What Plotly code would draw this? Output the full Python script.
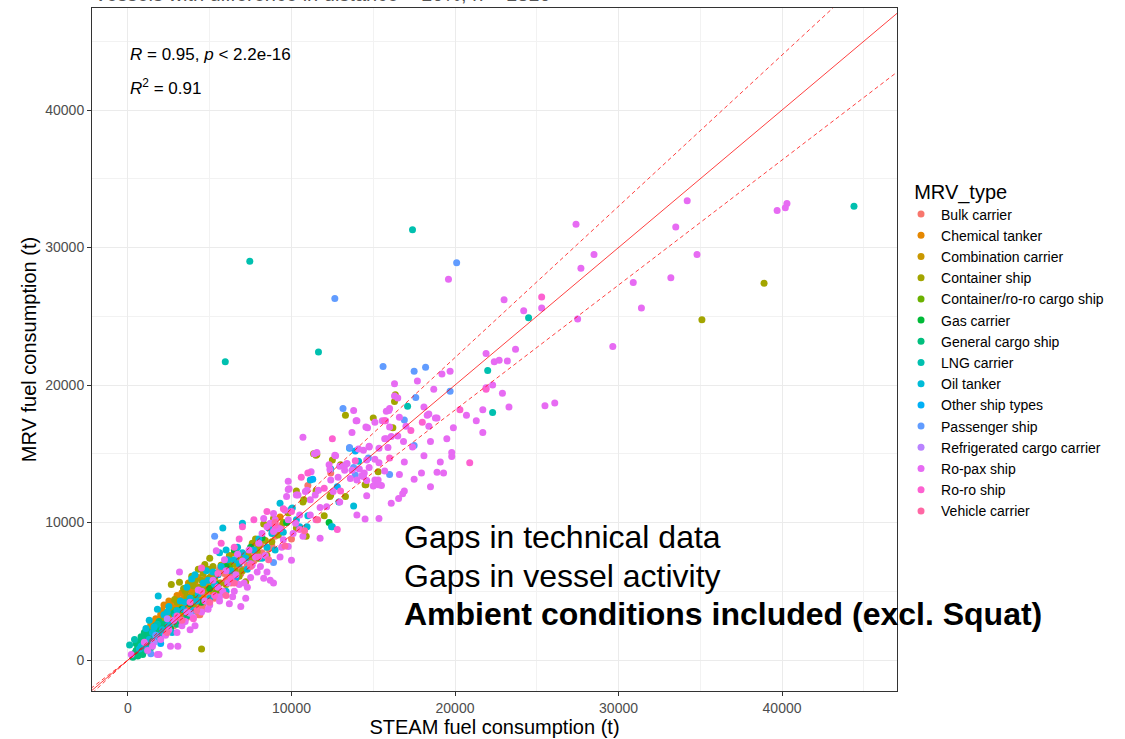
import plotly.graph_objects as go

# ---------------- data (STEAM t, MRV t) ----------------
type_names = ["Bulk carrier", "Chemical tanker", "Combination carrier", "Container ship",
              "Container/ro-ro cargo ship", "Gas carrier", "General cargo ship", "LNG carrier",
              "Oil tanker", "Other ship types", "Passenger ship", "Refrigerated cargo carrier",
              "Ro-pax ship", "Ro-ro ship", "Vehicle carrier"]
type_colors = ["#F8766D", "#E58700", "#C99800", "#A3A500", "#6BB100", "#00BA38", "#00BF7D",
               "#00C0AF", "#00BCD8", "#00B0F6", "#619CFF", "#B983FF", "#E76BF3", "#FD61D1", "#FF67A4"]

bulk_carrier = [(1500,1400),(2000,2200),(2500,2800),(2800,2500),(3000,3300),(3500,3400),(3500,4300),
    (3800,3500),(4000,4200),(4200,3800),(4400,3300),(4500,4600),(4800,5400),(5000,4900),(5200,6000),
    (5500,5300),(5800,5000),(6000,5800),(6500,6400),(1200,1500),(2300,1900),(3200,2700),(2700,3100),
    (3700,4800),(4600,4100),(5300,4500),(6300,5600),(7000,6600),(6800,7300),(7500,7800),(8200,7800),
    (9000,9000),(10000,8800),(12400,13600),(11000,12700),(1800,1600),(2600,2400),(3400,3000),
    (4300,4900),(5600,6600),(1000,800),(4600,3700),(4300,3300),(3900,4500),(3100,3900),(2200,2700),
    (5100,5700),(5900,6300),(6600,5900),(7200,7600),(4100,5100),(3300,3600),(2900,3500),(1700,2000),
    (2400,3000),(3600,3800),(4900,4300),(5400,6200),(6200,6900),(7800,8300),(8600,8100),(9400,9800),
    (2100,2500),(2600,2900),(3100,3000),(3300,3300),(3600,3100),(3900,3900),(4100,4300),(4400,4000),
    (4700,4800),(5000,5300),(5300,5100),(5700,5600),(6100,6200),(6400,6000),(6900,6300),(7300,6900),
    (7700,7200),(8100,8400),(8800,8300),(2900,2700),(3400,3900),(4500,4400),(5500,4800),(6700,6700),
    (1300,1200),(1600,1700),(2200,2100),(2700,2600),(5100,4600),(7600,7500)]
chemical_tanker = [(1500,2200),(2000,2800),(2500,3500),(3000,4000),(3500,4600),(2200,3200),(1800,2500),
    (2800,3000),(3200,3700),(4000,4400),(4500,5200),(1200,1800),(2600,4100),(3300,4900),(5000,5600),
    (3800,5200),(1600,2000),(2300,2600),(4200,4800),(5500,6200),(1400,2600),(2100,3600),(2900,4400),
    (3600,3900),(4100,5600),(2400,2100),(1900,1900),(3100,3200),(4600,4500),(5200,5000),(6000,6600),
    (6500,7800),(9300,10400),(1000,1600),(2700,3800),(3400,4100),(1300,2300),(1700,3000),(2000,3300),
    (2500,4300),(3000,4700),(3700,5600),(4300,6000),(2200,4000),(1100,2100),(2800,3300),(3500,5000),
    (4800,5900),(5700,6900),(1600,2800),(3900,4000),(2600,3000),(4400,4200),
    (1300,1900),(1500,2500),(1700,2300),(1900,2700),(2100,3000),(2300,3400),(2400,2900),(2600,3300),
    (2800,3700),(3000,3500),(3100,4200),(3300,4400),(3500,4000),(3700,4400),(3900,5000),(4100,4600),
    (4300,5300),(4700,5000),(5100,6100),(5300,6000),(2000,2300),(1100,1400),(1400,1700),(2500,2700),
    (3200,3300)]
combination_carrier = [(3200,3500),(4600,5500),(2500,3300),(6100,7000),(3900,4700)]
container_ship = [(35100,24750),(38900,27400),(16300,18800),(16350,19300),(13300,17800),(16200,16900),
    (11500,14900),(12500,14550),(13000,14200),(15300,13700),(11500,12300),(12400,12000),(13300,11900),
    (14500,12750),(11550,14950),(14550,12750),(10750,11650),(12350,11900),(10900,9000),(4500,800),
    (3000,4200),(3500,5000),(4000,5400),(4500,5800),(3800,5600),(5000,6000),(5500,6300),(6000,5500),
    (4200,4700),(2800,3600),(6500,7000),(7000,6500),(7500,7400),(8000,8300),(8500,7600),(9000,9700),
    (9500,10000),(10300,9600),(5200,6800),(4800,5100),(6800,6100),(7800,8800),(8300,9900),(3300,3800),
    (5800,4900),(6200,7600),(2200,3000),(4000,4000),(7200,5700),(8800,8600),(3150,5650),(2650,5500),
    (2850,4400),(4700,6950),(6550,6500),(11350,15000),(10300,12300),(15000,17600),(12000,10500),
    (3600,4600),(4100,5800),(4400,5300),(4600,6300),(4900,6600),(5300,6000),(5700,6900),(6100,7200),
    (6400,6500),(6900,7500),(7300,7700),(7900,7900),(8400,8700),(9200,9100),(3400,5200),(3900,6100),
    (5600,5600),(6600,8000),(7600,8500),(2500,3400),(8900,10300),(9800,10700),(10700,11500),(5000,7400),
    (4300,6600)]
container_roro = [(4000,4500),(6200,6800),(8000,7400),(3000,3600),(5400,4900)]
gas_carrier = [(1500,1200),(2000,2500),(4500,4200),(7500,8200),(9700,10000),(6000,6800),(12300,10000),
    (3300,3700),(5400,5500),(1000,900),(6500,8000),(8200,8900),(2600,2300),(700,1100),(1200,1500),
    (1800,2000),(3800,4100),(5000,5200)]
general_cargo = [(600,900),(800,1200),(1000,1400),(1200,1100),(1500,1900),(700,600),(1300,1600),
    (1800,2100),(900,400),(2200,2600),(400,500),(1100,700),(500,1200),(1400,900),(1700,1500),(2000,1700),
    (800,1700),(1600,2400),(2500,2300),(3000,2600),(1000,2000),(300,200),(2800,3400),(3600,3200),
    (600,300),(1200,2100),(1900,2800),(900,1600),(1500,1300),(2300,2000),(500,700),(700,1000),
    (900,1100),(1100,1300),(1300,1400),(1000,900),(1400,1500),(1600,1700),(1900,1900),(2100,2300),
    (2400,2500),(800,500),(600,1300),(1200,1700),(1700,2500)]
lng_carrier = [(17400,31300),(7450,29000),(44400,33000),(5950,21700),(11650,22400),(22000,21050),
    (22300,18000),(24500,24900),(17100,18450),(100,1100),(400,1500),(1100,800),(1800,2600)]
oil_tanker = [(1500,2000),(2000,1800),(2500,2600),(3000,3600),(1800,3700),(2200,3300),(3500,4200),
    (4000,3600),(4500,5000),(5000,4500),(5500,6200),(6000,5000),(6500,7300),(7000,7800),(7500,7000),
    (8000,8800),(8500,8200),(9000,8000),(5600,7800),(6000,8000),(4800,6500),(10000,11000),(10500,9700),
    (11000,10500),(12400,13900),(12900,11500),(13800,11200),(12500,9700),(5800,9600),(7000,9950),
    (1850,4650),(800,1000),(1200,800),(1100,2300),(2700,2000),(3300,2900),(4300,4800),(14100,14450),
    (11150,13100),(10050,11050),(10950,9700),(12450,9700),(7300,6600),(8600,9600),(6800,7000),
    (3900,5900),(1300,2900),(2500,3900),(3200,4300),(4100,6200),(5300,5500),(9300,11400),
    (1600,2400),(2100,2200),(2400,3500),(2900,3200),(3400,3700),(3800,4500),(4200,4300),(4600,5600),
    (5200,6400),(5700,6800),(6300,6500),(6700,8200),(7200,7400),(7700,8000),(8200,7400),(8800,9200),
    (9500,9300),(1000,1200),(1300,1500),(700,800),(3600,5300),(4900,5800),(6100,7300),(10300,10200),
    (1700,1600)]
other_types = [(12800,12600),(13550,15400),(13900,15200),(11300,13150),(6600,6000),(2000,1200)]
passenger_ship = [(20100,28900),(12650,26300),(15600,21350),(17500,21000),(18200,21300),(17600,19100),
    (19700,19550),(16900,17450),(17500,15600),(16000,13500),(14700,14700),(13150,18300),(13900,13450),
    (13800,14000),(5300,9000),(1400,450),(13550,15450),(8900,7100),(9100,9600),(1700,1800)]
refrigerated = [(2400,3000),(3800,3400),(1600,1300)]
ro_pax = [(19600,27700),(27400,31700),(28500,29500),(27700,28500),(34200,33400),(33500,31500),
    (34800,29500),(39700,32700),(40300,33200),(40200,32900),(30900,27450),(33200,27800),(31400,25600),
    (29650,22800),(27500,24800),(23000,26200),(25300,25600),(24200,25400),(23700,22600),(21900,22300),
    (22400,21700),(22700,21800),(23200,21750),(22300,20000),(22900,19400),(23300,18400),(25500,18500),
    (26100,18700),(21700,18200),(21900,19800),
    (17700,20300),(19200,20800),(19700,21000),(18700,19700),(16300,20100),(16300,19200),(16500,19050),
    (18100,18400),(18300,17800),(18900,17600),(20700,17800),(15800,18100),(16000,18300),(21300,17400),
    (21700,16550),(19900,16900),(18800,17600),(18400,17000),(18400,17900),(19500,16100),(19800,15100),
    (19800,14800),(19100,14400),(19300,13600),(18900,13650),(18500,12600),(18500,15900),(18100,14850),
    (17950,13600),(17500,13150),(16900,14400),(17000,17000),(16600,17650),(16850,15900),(17400,15500),
    (16500,16300),(15700,16100),(15750,17400),(15950,18150),(15100,17300),(14650,16900),(13800,18150),
    (14000,17400),(13700,16550),(15350,15400),(14750,15550),(10700,16200),(16600,13500),(15700,13750),
    (15300,13100),(15500,12700),(15000,12650),(14600,13050),(15100,14600),(16900,12300),(16800,12100),
    (11400,15000),(12300,14200),(12700,14850),(13300,14200),(11200,13700),(12400,13100),(13700,13800),
    (14150,13900),(14300,13400),(14450,13600),(14600,14550),(9800,13000),(9800,12400),(9700,11900),
    (10300,12000),(10850,12250),
    (13950,17400),(14550,16950),(15550,17400),(11550,15100),(12650,14900),(14400,15250),(14750,15500),
    (14100,15350),(13400,14300),(12950,14100),(13250,13800),(12350,13850),(12850,13300),(13600,13200),
    (14000,13100),(14400,13350),(15100,13100),(15300,12750),(14600,11950),(12950,11500),(14000,10550),
    (14500,10250),(15350,10300),(16100,11400),(16550,11750),(16000,16950),(16100,16250),(15800,16100),
    (15900,15450),(15350,14350),(14750,14000),
    (9850,12450),(10400,12000),(10950,12350),(11450,12000),(11150,11650),(11650,12350),(12550,12250),
    (12150,11150),(11750,11100),(11150,10550),(10500,10550),(11750,8850),(9800,10200),(10250,9950),
    (9600,10900),(8900,10650),(9000,10200),(8700,9950),(8300,10300),(8500,9700),(9300,9550),(10100,9200),
    (9500,8750),(8900,9350),(9800,8250),(10700,9000),(10000,7250),(9300,7500),(8700,5800),(8900,5600),
    (8300,5950),(8500,6400),(8100,6800),
    (200,400),(1900,400),(2600,1000),(3050,1000),(4100,2500),(5400,7950),(3150,6400),(5500,5300),
    (6200,4100),(6900,3900),(7200,4500),(6500,5000),(7500,6000),(7000,7200),(7800,7500),(6000,6500),
    (5000,4000),(4500,3500),(3500,2800),(3000,2000),(2500,2200),(2000,1500),(1500,1000),(1000,1300),
    (5800,5000),(6600,6200),(7400,8000),(8000,8500),(8400,7600),(9000,9500),(3800,2200),(1800,400),
    (7600,6900),(6100,5600),(5600,4600),(4700,4300),(7900,6400),(7300,5300),(6700,7700),(5900,7300),
    (8200,9200),(4300,5100),(3600,3500),(2800,2900),(5200,5800),(9400,8200),
    (1200,700),(2300,1800),(3300,2500),(4000,3100),(4900,3700),(5600,4300),(6400,4600),(7100,5600),
    (6800,5500)]
ro_ro = [(25300,26400),(21900,19700),(20900,14350),(7000,9700),(8500,10800),(9000,9800),(10500,9500),
    (11500,10200),(12000,12500),(6500,8200),(5500,6300),(4500,5000),(3800,4200),(4000,3000),(7500,7000),
    (8000,7500),(9500,11000),(10000,10800),(11000,13600),(13000,12300),(18000,17300),(15700,17400),
    (16000,14700),(12500,16100),(5700,8500),(6800,8800),(7700,10200),(4500,6700),(3000,3200),(5300,4700),
    (6300,5900),(10600,13300),(12800,9500),(13900,14500),(17300,16700),(20300,18200)]
vehicle_carrier = [(5000,4200),(6500,5600),(7500,6800),(8600,7300),(9600,8300),(10800,9400),(4200,3600),
    (11600,10200),(3300,2900),(2400,2000),(6000,4700),(9000,10000)]

series_points = [bulk_carrier, chemical_tanker, combination_carrier, container_ship, container_roro,
                 gas_carrier, general_cargo, lng_carrier, oil_tanker, other_types, passenger_ship,
                 refrigerated, ro_pax, ro_ro, vehicle_carrier]

ref_x = [-5000, 50000]            # extent of the reference lines
ref_slopes = [1.0, 1.1, 1 / 1.1]  # 1:1 line and +/-10 % band
ref_dash = ["solid", "dash", "dash"]

x_ticks = [0, 10000, 20000, 30000, 40000]
y_ticks = [0, 10000, 20000, 30000, 40000]
x_minor = [5000, 15000, 25000, 35000, 45000]
y_minor = [5000, 15000, 25000, 35000, 45000]

FONT = "Liberation Sans, Arial, sans-serif"

fig = go.Figure()
for name, color, pts in zip(type_names, type_colors, series_points):
    fig.add_trace(go.Scatter(
        x=[p[0] for p in pts], y=[p[1] for p in pts], mode="markers", name=name,
        marker=dict(color=color, size=7, line=dict(width=0)), hoverinfo="skip"))

for s, d in zip(ref_slopes, ref_dash):
    fig.add_trace(go.Scatter(
        x=ref_x, y=[v * s for v in ref_x], mode="lines", showlegend=False,
        line=dict(color="rgba(255,0,0,0.75)", width=1, dash="solid" if d == "solid" else "4px,3px"),
        hoverinfo="skip"))

axis_common = dict(
    showline=True, mirror=True, linecolor="#333333", linewidth=1,
    ticks="outside", ticklen=4, tickcolor="#333333", tickwidth=1,
    showgrid=True, gridcolor="#EBEBEB", gridwidth=1, zeroline=False,
    tickformat="d", tickfont=dict(family=FONT, size=14, color="#4D4D4D"),
    automargin=False,
)

fig.update_layout(
    width=1125, height=739,
    margin=dict(l=92, r=228, t=8, b=48),
    plot_bgcolor="white", paper_bgcolor="white",
    font=dict(family=FONT, color="black"),
    xaxis=dict(range=[-2200, 47030], tickvals=x_ticks,
               minor=dict(tickvals=x_minor, showgrid=True, gridcolor="#F2F2F2", gridwidth=0.6, ticks=""),
               title=dict(text="STEAM fuel consumption (t)", font=dict(family=FONT, size=20, color="black"),
                          standoff=1),
               **axis_common),
    yaxis=dict(range=[-2250, 47420], tickvals=y_ticks,
               minor=dict(tickvals=y_minor, showgrid=True, gridcolor="#F2F2F2", gridwidth=0.6, ticks=""),
               title=dict(text="MRV fuel consumption (t)", font=dict(family=FONT, size=20, color="black"),
                          standoff=3),
               **axis_common),
    legend=dict(title=dict(text="&nbsp;&nbsp;MRV_type", font=dict(family=FONT, size=20, color="black")),
                font=dict(family=FONT, size=14, color="black"),
                x=1.005, xanchor="left", y=0.5, yanchor="middle",
                bgcolor="rgba(0,0,0,0)", itemwidth=30),
    showlegend=True,
)

annotations = [
    dict(text="Vessels with difference in distance &lt; 10%, n = 1310", xref="paper", yref="paper",
         x=0.0, y=1.0, xanchor="left", yanchor="bottom", yshift=1, showarrow=False,
         font=dict(family=FONT, size=20, color="#555555")),
    dict(text="<i>R</i> = 0.95, <i>p</i> &lt; 2.2e-16", xref="x", yref="y", x=0, y=44070,
         xanchor="left", yanchor="middle", showarrow=False, font=dict(family=FONT, size=17, color="black")),
    dict(text="<i>R</i><sup>2</sup> = 0.91", xref="x", yref="y", x=0, y=41700,
         xanchor="left", yanchor="middle", showarrow=False, font=dict(family=FONT, size=17, color="black")),
    dict(text="Gaps in technical data", xref="x", yref="y", x=16760, y=8950,
         xanchor="left", yanchor="middle", showarrow=False, font=dict(family=FONT, size=32, color="black")),
    dict(text="Gaps in vessel activity", xref="x", yref="y", x=16760, y=6110,
         xanchor="left", yanchor="middle", showarrow=False, font=dict(family=FONT, size=32, color="black")),
    dict(text="<b>Ambient conditions included (excl. Squat)</b>", xref="x", yref="y", x=16760, y=3350,
         xanchor="left", yanchor="middle", showarrow=False, font=dict(family=FONT, size=32, color="black")),
]
fig.update_layout(annotations=annotations)

fig.write_html("out.html", config={"displayModeBar": False},
               post_script="document.body.style.margin='0px';")
